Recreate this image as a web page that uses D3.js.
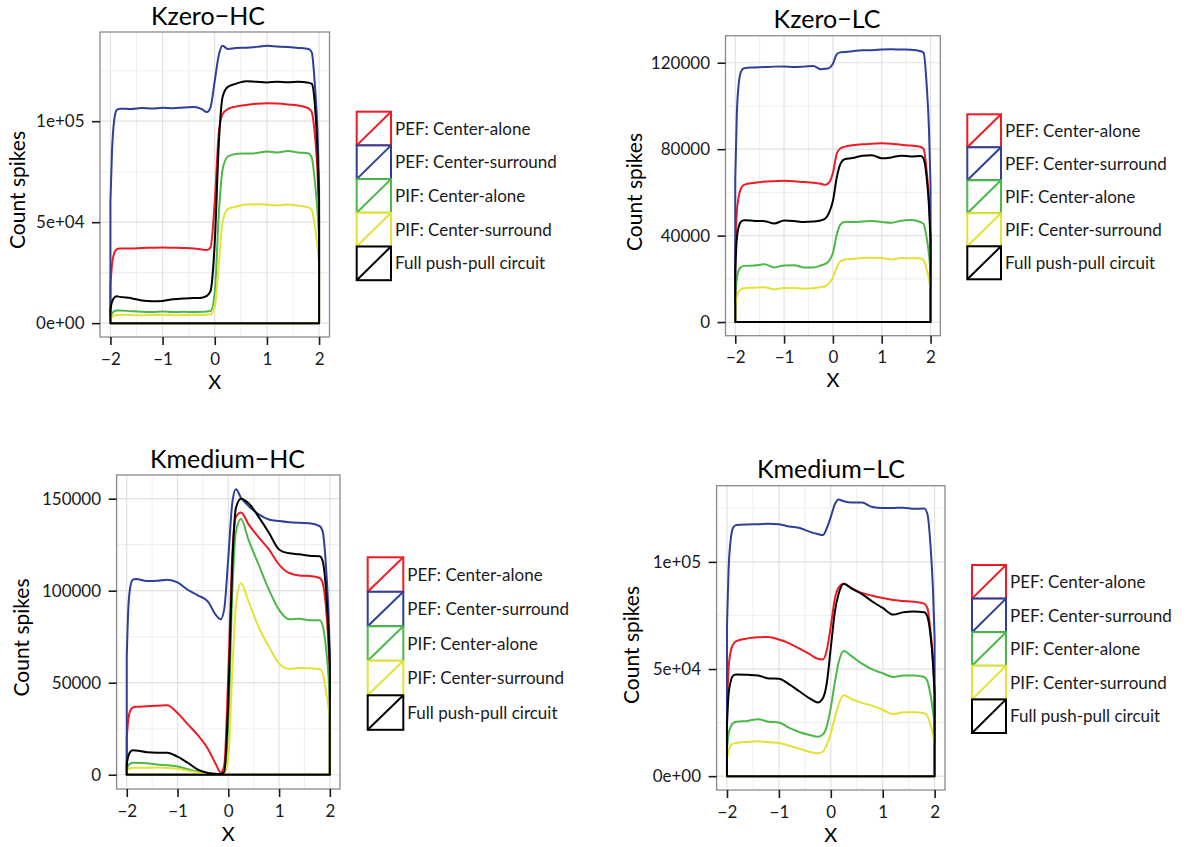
<!DOCTYPE html>
<html>
<head>
<meta charset="utf-8">
<script src="https://cdn.jsdelivr.net/npm/d3@7/dist/d3.min.js"></script>
<style>
  html, body { margin: 0; padding: 0; background: #ffffff; }
  svg { display: block; font-family: Lato, "Noto Sans", sans-serif; }
</style>
</head>
<body>
<svg id="chart" width="1191" height="847"></svg>
<script>
// Sample positions along X shared by every curve
const xGrid = [-2, -1.97, -1.93, -1.88, -1.82, -1.6, -1.4, -1.2, -1.0, -0.8, -0.6, -0.4, -0.25, -0.15, -0.08,
  0, 0.08, 0.15, 0.25, 0.4, 0.6, 0.8, 1.0, 1.2, 1.4, 1.6, 1.8, 1.86, 1.92, 1.97, 2];

const seriesNames = ["PEF: Center-alone", "PEF: Center-surround", "PIF: Center-alone",
  "PIF: Center-surround", "Full push-pull circuit"];
const seriesColors = ["#ed1c24", "#2e3f9a", "#4cb848", "#e3e236", "#000000"];

const panelTitles = ["Kzero\u2212HC", "Kzero\u2212LC", "Kmedium\u2212HC", "Kmedium\u2212LC"];

const xTicks = [-2, -1, 0, 1, 2];
const xTickLabels = ["\u22122", "\u22121", "0", "1", "2"];

const yTicksKzeroHC = [0, 50000, 100000];
const yLabelsKzeroHC = ["0e+00", "5e+04", "1e+05"];
const yTicksKzeroLC = [0, 40000, 80000, 120000];
const yLabelsKzeroLC = ["0", "40000", "80000", "120000"];
const yTicksKmediumHC = [0, 50000, 100000, 150000];
const yLabelsKmediumHC = ["0", "50000", "100000", "150000"];
const yTicksKmediumLC = [0, 50000, 100000];
const yLabelsKmediumLC = ["0e+00", "5e+04", "1e+05"];

// Kzero-HC
const kzeroHC_pefAlone = [19000, 29000, 34500, 36500, 37000, 37000, 37200, 37300, 37400, 37300, 37200, 37000, 36500, 36200, 37500,
  60000, 95000, 103500, 106000, 107200, 108000, 108600, 108900, 108700, 108300, 107800, 106300, 104500, 93000, 75000, 54000];
const kzeroHC_pefSurround = [60000, 85000, 100000, 105500, 106200, 106000, 106500, 106300, 106600, 106400, 106800, 107000, 106000, 104500, 107000,
  120000, 133000, 137300, 135800, 136200, 136400, 136800, 137300, 137000, 136700, 136300, 135700, 134000, 118000, 95000, 68000];
const kzeroHC_pifAlone = [3000, 4800, 5800, 6200, 6300, 5900, 5600, 5500, 5800, 5500, 5600, 5500, 5600, 5800, 6000,
  15000, 55000, 76000, 82500, 83800, 84000, 84200, 85000, 84500, 85300, 84500, 84000, 82000, 70000, 55000, 42000];
const kzeroHC_pifSurround = [2000, 3000, 3700, 4000, 4100, 4000, 3900, 4000, 4100, 3900, 4000, 4100, 4000, 4200, 4300,
  8000, 30000, 50000, 56500, 57600, 58800, 58900, 58700, 58300, 58700, 58200, 57300, 56000, 48000, 38000, 29000];
const kzeroHC_full = [7000, 10500, 12500, 13300, 13000, 12300, 11200, 10800, 11000, 11800, 12200, 12400, 12600, 13500, 16000,
  40000, 90000, 112000, 117000, 118500, 119800, 119500, 119200, 119500, 119300, 119500, 119000, 118500, 108000, 85000, 60000];

// Kzero-LC
const kzeroLC_pefAlone = [32000, 50000, 58000, 62000, 63500, 64500, 65000, 65200, 65400, 65200, 64800, 64500, 64000, 63500, 64500,
  69000, 78000, 80300, 81200, 81800, 82300, 82500, 82700, 82500, 82000, 81700, 81000, 80000, 70000, 56000, 40000];
const kzeroLC_pefSurround = [66000, 95000, 110000, 116000, 117500, 117800, 118000, 118200, 118300, 118000, 118200, 118500, 117000, 117200, 117500,
  119500, 124000, 124800, 125000, 125300, 125800, 125800, 126100, 126200, 126100, 126000, 125300, 124500, 110000, 88000, 63000];
const kzeroLC_pifAlone = [13000, 20000, 24000, 25500, 26000, 26200, 26700, 25300, 26200, 26300, 25300, 25300, 26200, 27000, 28300,
  32000, 40500, 45000, 46400, 46300, 46500, 46800, 46300, 46000, 46900, 47200, 46200, 45300, 39000, 31000, 23000];
const kzeroLC_pifSurround = [7500, 11500, 14000, 15200, 15600, 15900, 16100, 15200, 15800, 15800, 15400, 15600, 16200, 16600, 18000,
  20500, 25500, 28000, 29000, 29200, 29700, 29800, 29600, 29000, 29600, 29500, 29400, 28500, 24500, 19500, 14500];
const kzeroLC_full = [24000, 38000, 44000, 46500, 47100, 46800, 46700, 45600, 47000, 46800, 46300, 46500, 47000, 48000, 50500,
  56000, 67000, 73000, 75500, 75900, 77000, 77200, 75800, 76200, 77000, 76600, 76900, 75500, 67000, 53000, 38000];

// Kmedium-HC
const kmediumHC_pefAlone = [20000, 30000, 35000, 36500, 36900, 37200, 37500, 37800, 33500, 27500, 21500, 14000, 6000, 1200, 5000,
  55000, 120000, 140000, 142500, 136000, 129000, 122400, 114200, 109600, 108300, 108000, 106900, 104000, 92000, 72000, 54000];
const kmediumHC_pefSurround = [64000, 90000, 102000, 106000, 106400, 105300, 105400, 106000, 104500, 100500, 97500, 94000, 87000, 84500, 90000,
  118000, 148000, 155100, 150500, 146000, 141500, 138700, 137800, 137200, 136900, 136700, 135100, 132000, 115000, 90000, 66000];
const kmediumHC_pifAlone = [3000, 5000, 6000, 6500, 6500, 6200, 5600, 5100, 4500, 3000, 1700, 800, 400, 300, 1500,
  27000, 100000, 132000, 139000, 127500, 114000, 100500, 89600, 84500, 84700, 84000, 84000, 81000, 70000, 55000, 42000];
const kmediumHC_pifSurround = [2000, 3000, 3500, 3700, 3800, 3800, 3900, 3600, 3300, 2200, 1200, 600, 300, 200, 800,
  9000, 57000, 92000, 104000, 94000, 80000, 69600, 60500, 57500, 58000, 57800, 57500, 55000, 46000, 37000, 30000];
const kmediumHC_full = [6000, 10000, 12500, 13300, 13200, 12200, 12000, 12000, 9800, 6500, 2800, 1000, 500, 400, 1500,
  40000, 115000, 145000, 150000, 147500, 140000, 131500, 122400, 120300, 119800, 119000, 118700, 116000, 102000, 80000, 60000];

// Kmedium-LC
const kmediumLC_pefAlone = [32000, 50000, 58000, 61500, 63000, 64300, 64800, 65000, 63800, 62000, 59500, 56800, 54800, 54500, 58500,
  70000, 83000, 88000, 89800, 87800, 85500, 84200, 83100, 82200, 81800, 81400, 80500, 78500, 68000, 54000, 40000];
const kmediumLC_pefSurround = [70000, 96000, 110000, 116000, 117200, 117500, 117600, 117800, 117600, 116500, 115800, 114000, 113000, 112500, 115500,
  121000, 127000, 129100, 128300, 127700, 127700, 125600, 125200, 125200, 125300, 124800, 124900, 122500, 108000, 86000, 64000];
const kmediumLC_pifAlone = [13000, 19500, 23000, 24800, 25400, 25800, 26600, 25400, 25100, 22500, 20500, 19200, 18400, 19500, 23000,
  32000, 44000, 53000, 58400, 56000, 52500, 49800, 48000, 46300, 47000, 47000, 46300, 44500, 38000, 30000, 23000];
const kmediumLC_pifSurround = [8000, 12000, 14300, 15200, 15500, 16000, 16300, 15800, 15500, 14200, 12800, 11300, 10700, 11500, 14500,
  20000, 27500, 33500, 37800, 36000, 34200, 32800, 31000, 29000, 29800, 29800, 29400, 28200, 24000, 19000, 14500];
const kmediumLC_full = [24000, 38000, 44000, 47000, 47500, 47300, 47000, 45600, 45500, 42800, 39500, 36200, 34400, 36500, 43000,
  60000, 77000, 85000, 89800, 87500, 85000, 81500, 78500, 75400, 76500, 76900, 76500, 74500, 66000, 52000, 38000];

// Plot geometry for the four sub-charts
const panels = [
  { title: panelTitles[0], ticks: yTicksKzeroHC, labels: yLabelsKzeroHC,
    series: [kzeroHC_pefAlone, kzeroHC_pefSurround, kzeroHC_pifAlone, kzeroHC_pifSurround, kzeroHC_full],
    box: { left: 100, top: 32, right: 329.5, bottom: 337 },
    titlePos: [208, 25], yTitlePos: [18, 190], xTitleY: 388.5,
    legend: { x: 356.7, y: 111.7, w: 34.3, h: 33.7 } },
  { title: panelTitles[1], ticks: yTicksKzeroLC, labels: yLabelsKzeroLC,
    series: [kzeroLC_pefAlone, kzeroLC_pefSurround, kzeroLC_pifAlone, kzeroLC_pifSurround, kzeroLC_full],
    box: { left: 725.5, top: 35.7, right: 940.3, bottom: 335.7 },
    titlePos: [827, 28.3], yTitlePos: [635, 192], xTitleY: 387,
    legend: { x: 967.3, y: 114.3, w: 33.7, h: 33 } },
  { title: panelTitles[2], ticks: yTicksKmediumHC, labels: yLabelsKmediumHC,
    series: [kmediumHC_pefAlone, kmediumHC_pefSurround, kmediumHC_pifAlone, kmediumHC_pifSurround, kmediumHC_full],
    box: { left: 116.6, top: 475, right: 340, bottom: 789 },
    titlePos: [227.5, 468.3], yTitlePos: [22, 637.5], xTitleY: 840.5,
    legend: { x: 367.7, y: 557.3, w: 35.6, h: 34.5 } },
  { title: panelTitles[3], ticks: yTicksKmediumLC, labels: yLabelsKmediumLC,
    series: [kmediumLC_pefAlone, kmediumLC_pefSurround, kmediumLC_pifAlone, kmediumLC_pifSurround, kmediumLC_full],
    box: { left: 716.6, top: 485.7, right: 945, bottom: 790 },
    titlePos: [831, 478.3], yTitlePos: [632, 645], xTitleY: 842,
    legend: { x: 972, y: 565, w: 34, h: 33.6 } }
];

const svg = d3.select("#chart");
const minorX = [-1.5, -0.5, 0.5, 1.5];

panels.forEach(p => {
  const b = p.box;
  const g = svg.append("g");

  const x = d3.scaleLinear().domain([-2.2, 2.2]).range([b.left, b.right]);
  const maxV = d3.max(p.series, s => d3.max(s));
  const y = d3.scaleLinear().domain([-0.05 * maxV, 1.05 * maxV]).range([b.bottom, b.top]);

  // minor grid on the y axis sits halfway between major ticks
  const step = p.ticks[1] - p.ticks[0];
  const minorY = p.ticks.map(t => t + step / 2).filter(v => v <= y.domain()[1]);

  g.append("rect")
    .attr("x", b.left).attr("y", b.top)
    .attr("width", b.right - b.left).attr("height", b.bottom - b.top)
    .attr("fill", "#ffffff");

  g.append("g").selectAll("line.minx").data(minorX).join("line")
    .attr("x1", d => x(d)).attr("x2", d => x(d))
    .attr("y1", b.top).attr("y2", b.bottom)
    .attr("stroke", "#f0f0f0").attr("stroke-width", 1.1);
  g.append("g").selectAll("line.miny").data(minorY).join("line")
    .attr("x1", b.left).attr("x2", b.right)
    .attr("y1", d => y(d)).attr("y2", d => y(d))
    .attr("stroke", "#f0f0f0").attr("stroke-width", 1.1);
  g.append("g").selectAll("line.majx").data(xTicks).join("line")
    .attr("x1", d => x(d)).attr("x2", d => x(d))
    .attr("y1", b.top).attr("y2", b.bottom)
    .attr("stroke", "#e2e2e2").attr("stroke-width", 1.2);
  g.append("g").selectAll("line.majy").data(p.ticks).join("line")
    .attr("x1", b.left).attr("x2", b.right)
    .attr("y1", d => y(d)).attr("y2", d => y(d))
    .attr("stroke", "#e2e2e2").attr("stroke-width", 1.2);

  // density outlines: curve plus the closing edges down to zero
  const line = d3.line()
    .x((d, i) => x(xGrid[i]))
    .y(d => y(d))
    .curve(d3.curveMonotoneX);

  p.series.forEach((s, si) => {
    const curve = line(s);
    const d = `M${x(-2)},${y(0)}L` + curve.slice(1) + `L${x(2)},${y(0)}Z`;
    g.append("path")
      .attr("d", d)
      .attr("fill", "none")
      .attr("stroke", seriesColors[si])
      .attr("stroke-width", 2)
      .attr("stroke-linejoin", "round");
  });

  g.append("rect")
    .attr("x", b.left).attr("y", b.top)
    .attr("width", b.right - b.left).attr("height", b.bottom - b.top)
    .attr("fill", "none")
    .attr("stroke", "#8a8a8a").attr("stroke-width", 1.3);

  // axes
  const yAxis = d3.axisLeft(y).tickValues(p.ticks)
    .tickFormat((d, i) => p.labels[i]).tickSize(8).tickPadding(7.5);
  const ya = g.append("g").attr("transform", `translate(${b.left},0)`).call(yAxis);
  const xAxis = d3.axisBottom(x).tickValues(xTicks)
    .tickFormat((d, i) => xTickLabels[i]).tickSize(8).tickPadding(7.5);
  const xa = g.append("g").attr("transform", `translate(0,${b.bottom})`).call(xAxis);
  [ya, xa].forEach(a => {
    a.select(".domain").remove();
    a.selectAll(".tick line").attr("stroke", "#1a1a1a").attr("stroke-width", 1.6);
    a.selectAll(".tick text").attr("fill", "#1a1a1a")
      .style("font-family", "Lato, 'Noto Sans', sans-serif").style("font-size", "17px");
  });

  // titles
  g.append("text")
    .attr("x", p.titlePos[0]).attr("y", p.titlePos[1])
    .attr("text-anchor", "middle")
    .style("font-size", "25px").attr("fill", "#000")
    .text(p.title);

  g.append("text")
    .attr("transform", `translate(${p.yTitlePos[0]},${p.yTitlePos[1]}) rotate(-90)`)
    .attr("text-anchor", "middle").attr("dy", "0.35em")
    .style("font-size", "21px").attr("fill", "#000")
    .text("Count spikes");

  g.append("text")
    .attr("x", x(0)).attr("y", p.xTitleY)
    .attr("text-anchor", "middle")
    .style("font-size", "20px").attr("fill", "#000")
    .text("X");

  // legend
  const L = p.legend;
  const lg = g.append("g");
  seriesNames.forEach((name, i) => {
    const ky = L.y + i * L.h;
    lg.append("rect")
      .attr("x", L.x).attr("y", ky).attr("width", L.w).attr("height", L.h)
      .attr("fill", "#ffffff").attr("stroke", seriesColors[i]).attr("stroke-width", 2);
    lg.append("line")
      .attr("x1", L.x).attr("y1", ky + L.h).attr("x2", L.x + L.w).attr("y2", ky)
      .attr("stroke", seriesColors[i]).attr("stroke-width", 2);
    lg.append("text")
      .attr("x", L.x + L.w + 4).attr("y", ky + L.h / 2).attr("dy", "0.36em")
      .style("font-size", "17px").attr("fill", "#1a1a1a")
      .text(name);
  });
});
</script>
</body>
</html>
